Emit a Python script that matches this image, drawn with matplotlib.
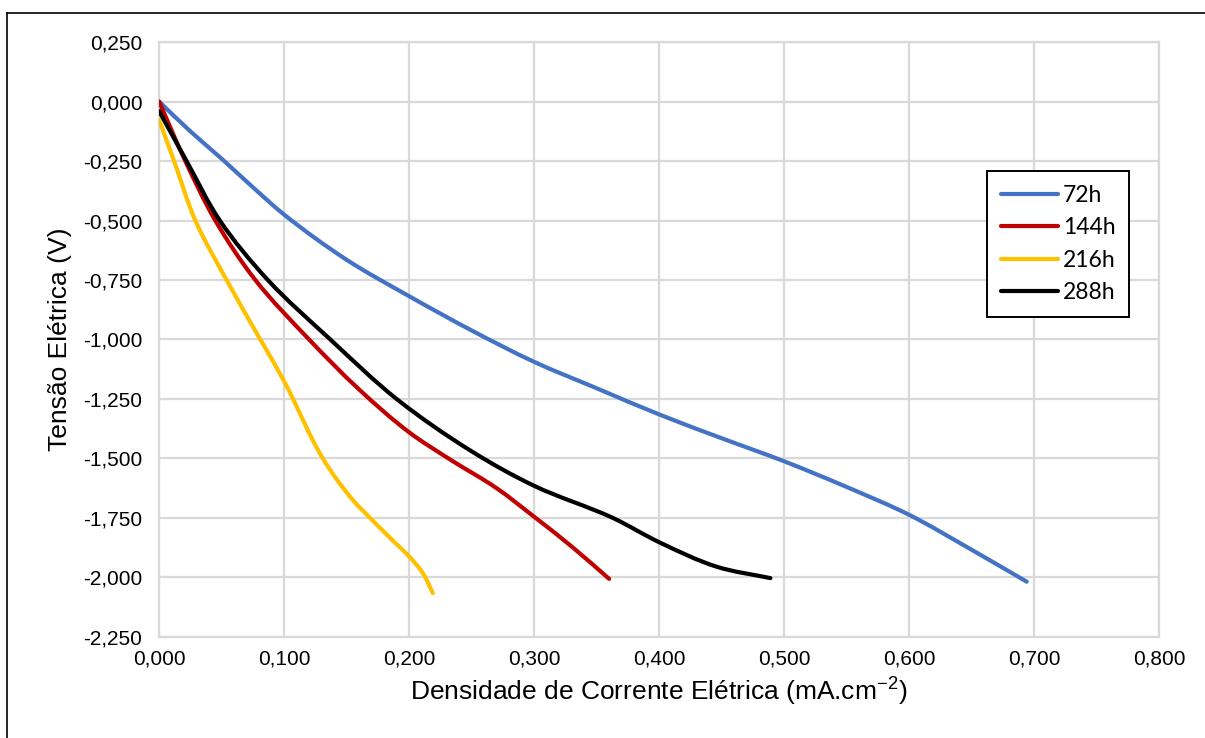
import matplotlib
matplotlib.use("Agg")
import matplotlib.pyplot as plt
import numpy as np
from matplotlib.ticker import FuncFormatter, MultipleLocator
from matplotlib.lines import Line2D
from matplotlib.path import Path
from matplotlib.patches import PathPatch

plt.rcParams['font.family'] = ['Liberation Sans', 'DejaVu Sans']
plt.rcParams['mathtext.default'] = 'regular'

# curvas de polarização por tempo de operação
x_72h = [0, 0.025, 0.05, 0.075, 0.1, 0.15, 0.2, 0.25, 0.3, 0.35, 0.4, 0.45,
         0.5, 0.55, 0.6, 0.65, 0.694]
y_72h = [0, -0.125, -0.24, -0.36, -0.475, -0.665, -0.818, -0.962, -1.094,
         -1.205, -1.315, -1.415, -1.512, -1.62, -1.737, -1.884, -2.018]

x_144h = [0, 0.021, 0.045, 0.077, 0.12, 0.16, 0.2, 0.233, 0.27, 0.3,
          0.33, 0.36]
y_144h = [0, -0.25, -0.5, -0.75, -1.0, -1.21, -1.39, -1.505, -1.625,
          -1.745, -1.87, -2.006]

x_216h = [0, 0.012, 0.029, 0.054, 0.081, 0.1, 0.131, 0.155, 0.169,
          0.185, 0.2, 0.211, 0.219]
y_216h = [-0.077, -0.25, -0.5, -0.75, -1.0, -1.175, -1.5, -1.675,
          -1.751, -1.835, -1.912, -1.982, -2.066]

x_288h = [0, 0.022, 0.0486, 0.087, 0.137, 0.19, 0.25, 0.3,
          0.363, 0.4, 0.446, 0.489]
y_288h = [-0.04, -0.25, -0.5, -0.75, -1.0, -1.25, -1.47, -1.615,
          -1.75, -1.852, -1.955, -2.003]

series = [
    ("72h", x_72h, y_72h, "#4472C4"),
    ("144h", x_144h, y_144h, "#C00000"),
    ("216h", x_216h, y_216h, "#FFC000"),
    ("288h", x_288h, y_288h, "#000000"),
]

# escala aproximada em pixels por unidade, para suavizar em espaço de tela
SX, SY = 1000 / 0.8, 595 / 2.5


def smooth_path(xs, ys):
    # linha suavizada: Bezier cúbica pelos pontos, tangentes ponderadas pelo comprimento
    p = np.column_stack([np.asarray(xs) * SX, np.asarray(ys) * SY]).astype(float)
    n = len(p)
    d = np.hypot(*np.diff(p, axis=0).T)
    tang = np.zeros_like(p)
    for i in range(n):
        if i == 0:
            t = p[1] - p[0]
        elif i == n - 1:
            t = p[-1] - p[-2]
        else:
            t = (p[i] - p[i - 1]) / d[i - 1] + (p[i + 1] - p[i]) / d[i]
        tang[i] = t / np.hypot(*t)
    verts = [p[0]]
    codes = [Path.MOVETO]
    for i in range(n - 1):
        c1 = p[i] + tang[i] * d[i] / 3.0
        c2 = p[i + 1] - tang[i + 1] * d[i] / 3.0
        verts += [c1, c2, p[i + 1]]
        codes += [Path.CURVE4] * 3
    verts = np.array(verts) / [SX, SY]
    return Path(verts, codes)


fs = 15
fig = plt.figure(figsize=(12.05, 7.38), dpi=100)
ax = fig.add_axes([0.132, 0.137, 0.830, 0.806])

handles = []
for label, xs, ys, color in series:
    patch = PathPatch(smooth_path(xs, ys), facecolor='none', edgecolor=color,
                      linewidth=3, capstyle='round', joinstyle='round', zorder=3)
    ax.add_patch(patch)
    handles.append(Line2D([], [], color=color, linewidth=3,
                          solid_capstyle='round', label=label))

ax.set_xlim(0, 0.8)
ax.set_ylim(-2.25, 0.25)
ax.xaxis.set_major_locator(MultipleLocator(0.1))
ax.yaxis.set_major_locator(MultipleLocator(0.25))
fmt = FuncFormatter(lambda v, pos: ("%.3f" % v).replace(".", ",").replace("-0,000", "0,000"))
ax.xaxis.set_major_formatter(fmt)
ax.yaxis.set_major_formatter(fmt)
ax.tick_params(axis='both', length=0, labelsize=fs)
ax.tick_params(axis='x', pad=9)
ax.tick_params(axis='y', pad=12)

ax.grid(True, color='#d9d9d9', linewidth=1.6, zorder=0)
ax.set_axisbelow(True)
for sp in ax.spines.values():
    sp.set_color('#d9d9d9')
    sp.set_linewidth(1.6)

ax.set_xlabel('Densidade de Corrente Elétrica (mA.cm$^{-2}$)', fontsize=19, labelpad=5)
ax.set_ylabel('Tensão Elétrica (V)', fontsize=19, labelpad=8)

leg = ax.legend(handles=handles, loc='upper left', bbox_to_anchor=(0.828, 0.783),
                borderaxespad=0, fancybox=False, framealpha=1, edgecolor='black',
                prop={'family': 'Lato', 'size': 16.5}, handlelength=2.5,
                handletextpad=0.2, labelspacing=0.5, borderpad=0.6)
leg.get_frame().set_linewidth(1.4)

# moldura externa
fig.add_artist(Line2D([0.0058, 0.0058], [0, 0.9824], color='black', linewidth=1.2,
                      transform=fig.transFigure))
fig.add_artist(Line2D([0.0058, 1], [0.9824, 0.9824], color='black', linewidth=1.2,
                      transform=fig.transFigure))

fig.savefig("out.png", dpi=100)
